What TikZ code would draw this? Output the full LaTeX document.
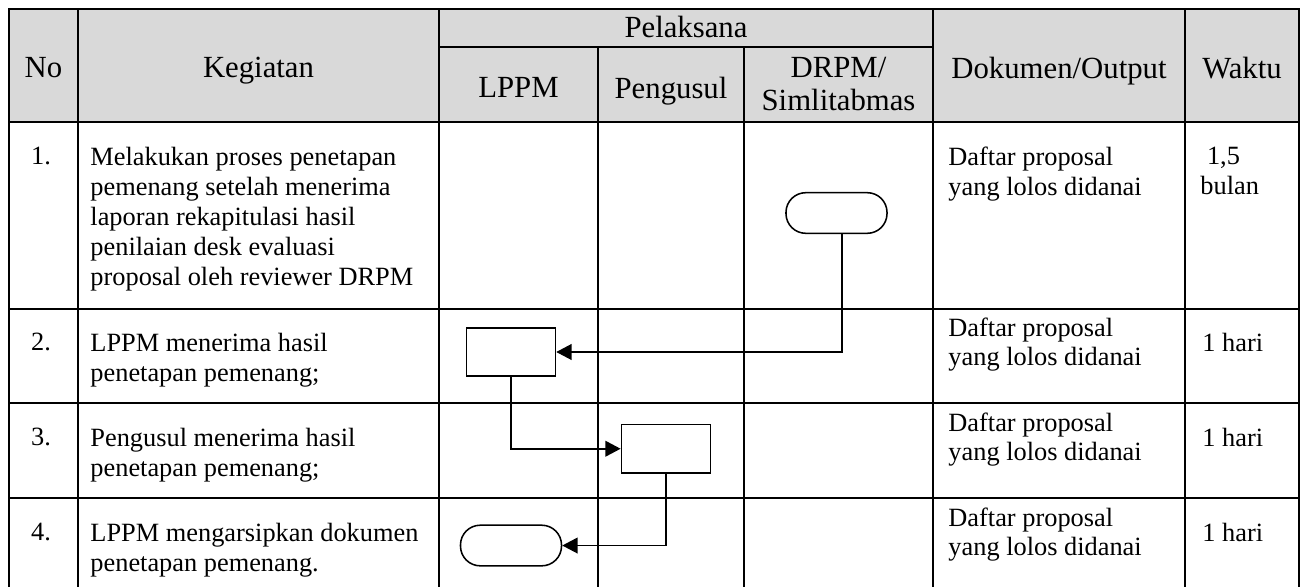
\documentclass[tikz,border=0pt]{standalone}
\usepackage{fontspec}
\setmainfont{Liberation Serif}
\usetikzlibrary{arrows.meta,positioning}
\definecolor{headcolor}{HTML}{D9D9D9}
\tikzset{
    terminal/.style={
        shape=rectangle,
        draw=black,
        line width=0.7pt,
        rounded corners=9pt,
        minimum width=46pt,
        minimum height=18.5pt,
        inner sep=0pt
    },
    process/.style={
        shape=rectangle,
        draw=black,
        line width=0.7pt,
        minimum width=40.5pt,
        minimum height=22pt,
        inner sep=0pt
    },
    flow/.style={
        line width=0.7pt,
        -{Triangle[length=7pt,width=7.2pt]}
    },
    tableline/.style={
        line width=1pt,
        line cap=rect
    },
    head/.style={
        font=\fontsize{14}{15}\selectfont,
        align=center,
        anchor=north,
        inner sep=0pt
    },
    cell/.style={
        font=\fontsize{12}{13.6}\selectfont,
        align=left,
        anchor=north west,
        inner sep=0pt
    },
    num/.style={
        font=\fontsize{12}{13.6}\selectfont,
        anchor=north,
        inner sep=0pt
    }
}
\begin{document}
\begin{tikzpicture}[x=0.16mm, y=-0.16mm]
    \useasboundingbox (0,0) rectangle (1306,587);
    
    \begin{scope} % table
    	\fill[headcolor] (9,9) rectangle (1299,122);
    	\draw[tableline] (9,587) -- (9,9) -- (1299,9) -- (1299,587);
    	\draw[tableline] (78,9) -- (78,587);
    	\draw[tableline] (439,9) -- (439,587);
    	\draw[tableline] (598,47) -- (598,587);
    	\draw[tableline] (744,47) -- (744,587);
    	\draw[tableline] (933,9) -- (933,587);
    	\draw[tableline] (1185,9) -- (1185,587);
    	\draw[tableline] (439,47) -- (933,47);
    	\draw[tableline] (9,122) -- (1299,122);
    	\draw[tableline] (9,309) -- (1299,309);
    	\draw[tableline] (9,403) -- (1299,403);
    	\draw[tableline] (9,498) -- (1299,498);
    \end{scope}
    
    \node[head] (hno) at (43.5,57) {No};
    \node[head] (hkeg) at (258.5,57) {Kegiatan};
    \node[head] (hpel) at (686,16) {Pelaksana};
    \node[head] (hlppm) at (518.5,77) {LPPM};
    \node[head] (hpeng) at (671,77) {Pengusul};
    \node[head] (hdrpm) at (838.5,57) {DRPM/\\Simlitabmas};
    \node[head] (hdok) at (1059,57) {Dokumen/Output};
    \node[head] (hwaktu) at (1242,57) {Waktu};
    
    \node[num] (no1) at (41,147) {1.};
    \node[cell] (keg1) at (90,147) {Melakukan proses penetapan\\pemenang setelah menerima\\laporan rekapitulasi hasil\\penilaian desk evaluasi\\proposal oleh reviewer DRPM};
    \node[cell] (dok1) at (948,147) {Daftar proposal\\yang lolos didanai};
    \node[cell] (waktu1) at (1200,147) {\hspace*{3pt}1,5\\bulan};
    
    \node[num] (no2) at (41,333) {2.};
    \node[cell] (keg2) at (90,333) {LPPM menerima hasil\\penetapan pemenang;};
    \node[cell] (dok2) at (948,317) {Daftar proposal\\yang lolos didanai};
    \node[cell] (waktu2) at (1202,333) {1 hari};
    
    \node[num] (no3) at (41,428) {3.};
    \node[cell] (keg3) at (90,428) {Pengusul menerima hasil\\penetapan pemenang;};
    \node[cell] (dok3) at (948,412) {Daftar proposal\\yang lolos didanai};
    \node[cell] (waktu3) at (1202,428) {1 hari};
    
    \node[num] (no4) at (41,523) {4.};
    \node[cell] (keg4) at (90,523) {LPPM mengarsipkan dokumen\\penetapan pemenang.};
    \node[cell] (dok4) at (948,507) {Daftar proposal\\yang lolos didanai};
    \node[cell] (waktu4) at (1202,523) {1 hari};
    
    \node[terminal] (start) at (836.5,213) {};
    \node[process] (lppm) at (511,352) {};
    \node[process, below right=7.5mm and 10.3mm of lppm] (pengusul) {};
    \node[terminal, below=23.6mm of lppm] (arsip) {};
    
    \begin{scope} % flow
    	\draw[flow] 
    	([xshift=2.5pt]start.south) 
    	|- 
    	(lppm.east);
    	
    	\draw[flow] 
    	(lppm.south) 
    	|- 
    	(pengusul.west);
    	
    	\draw[flow] 
    	(pengusul.south) 
    	|- 
    	(arsip.east);
    \end{scope}
\end{tikzpicture}
\end{document}
